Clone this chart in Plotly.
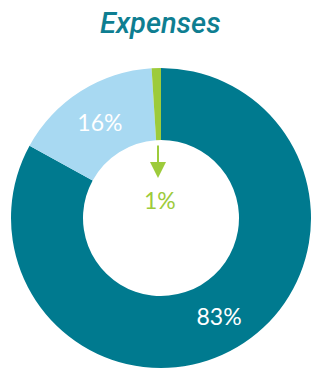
import plotly.graph_objects as go

categories = ["Program", "Administration", "Fundraising"]
values = [83, 16, 1]
colors = ["#007A8F", "#A8D9F2", "#9DCB3B"]
labels_shown = ["83%", "16%", ""]
title_text = "Expenses"

W, H = 311, 370
cx, cy, R = 161, 218, 150

fig = go.Figure(go.Pie(
    labels=categories,
    values=values,
    marker=dict(colors=colors, line=dict(width=0)),
    hole=0.52,
    sort=False,
    direction="clockwise",
    rotation=0,
    text=labels_shown,
    textinfo="text",
    textposition="inside",
    insidetextorientation="horizontal",
    textfont=dict(family="Lato, sans-serif", size=23, color="white"),
    domain=dict(x=[(cx - R) / W, (cx + R) / W], y=[(H - cy - R) / H, (H - cy + R) / H]),
    showlegend=False,
    hoverinfo="label+percent",
))

fig.add_annotation(
    x=158 / W, y=1 - 178 / H, xref="paper", yref="paper",
    ax=0, ay=-34, text="", showarrow=True,
    arrowhead=2, arrowsize=1.6, arrowwidth=2, arrowcolor="#9DCB3B",
)
fig.add_annotation(
    x=160 / W, y=1 - 200 / H, xref="paper", yref="paper",
    xanchor="center", yanchor="middle",
    text="1%", showarrow=False,
    font=dict(family="Lato, sans-serif", size=23, color="#9DCB3B"),
)
fig.add_annotation(
    x=160 / W, y=1 - 23 / H, xref="paper", yref="paper",
    xanchor="center", yanchor="middle",
    text="<i>" + title_text + "</i>", showarrow=False,
    font=dict(family="Roboto, sans-serif", size=29, color="#0E7E91", weight=500),
)

fig.update_layout(
    width=W, height=H,
    margin=dict(l=0, r=0, t=0, b=0),
    paper_bgcolor="white", plot_bgcolor="white",
)

fig.write_html("out.html", config={"displayModeBar": False},
               post_script="document.body.style.margin='0';document.body.style.padding='0';")
